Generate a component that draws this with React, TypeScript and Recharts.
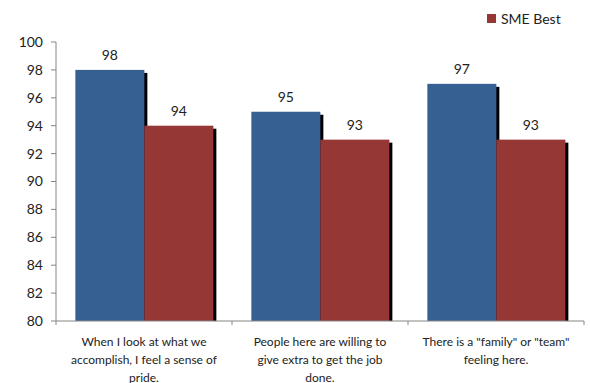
import { Bar, BarChart, LabelList, Legend, XAxis, YAxis } from "recharts";

const CATEGORIES = [
  "When I look at what we|accomplish, I feel a sense of|pride.",
  "People here are willing to|give extra to get the job|done.",
  'There is a "family" or "team"|feeling here.',
];
const COMPANY = [98, 95, 97];
const SME_BEST = [94, 93, 93];
const Y_TICKS = [80, 82, 84, 86, 88, 90, 92, 94, 96, 98, 100];

const BLUE = "#376092";
const RED = "#953735";
const AXIS = "#868686";
const FONT = "Lato, 'Open Sans', sans-serif";

const rows = CATEGORIES.map((name, i) => ({ name, company: COMPANY[i], sme: SME_BEST[i] }));

function ShadowBar(props: any) {
  const { x, y, width, height, fill } = props;
  return (
    <g>
      <rect x={x + 3} y={y + 3} width={width} height={Math.max(0, height - 3)} fill="#000" />
      <rect x={x} y={y} width={width} height={height} fill={fill} />
    </g>
  );
}

function CatTick(props: any) {
  const { x, y, payload, index } = props;
  const half = 88;
  const lines = String(payload.value).split("|");
  return (
    <g>
      {index === 0 && <line x1={x - half} y1={y} x2={x - half} y2={y + 4} stroke={AXIS} />}
      <line x1={x + half} y1={y} x2={x + half} y2={y + 4} stroke={AXIS} />
      {lines.map((l, i) => (
        <text key={i} x={x} y={y + 25 + i * 18} textAnchor="middle" fontSize={12} fill="#222" fontFamily={FONT}>
          {l}
        </text>
      ))}
    </g>
  );
}

function LegendBox() {
  return (
    <div style={{ display: "flex", alignItems: "center", fontFamily: FONT, fontSize: 14, color: "#222" }}>
      <span style={{ width: 9, height: 9, background: RED, display: "inline-block", marginRight: 5 }} />
      SME Best
    </div>
  );
}

export default function App() {
  return (
    <div style={{ position: "absolute", left: 0, top: 0, width: 590, height: 383, background: "#fff" }}>
      <BarChart
        width={590}
        height={383}
        data={rows}
        margin={{ top: 25, right: 6, bottom: 0, left: 0 }}
        barCategoryGap="11%"
        barGap={0}
      >
        <XAxis
          dataKey="name"
          interval={0}
          height={62}
          tickLine={false}
          tickSize={0}
          tickMargin={0}
          axisLine={{ stroke: AXIS }}
          tick={<CatTick />}
        />
        <YAxis
          width={56}
          domain={[80, 100]}
          ticks={Y_TICKS}
          interval={0}
          tickSize={5}
          tickMargin={8}
          axisLine={{ stroke: AXIS }}
          tickLine={{ stroke: AXIS }}
          tick={{ fontSize: 14, fill: "#222", fontFamily: FONT }}
        />
        <Legend
          verticalAlign="top"
          content={<LegendBox />}
          wrapperStyle={{ position: "absolute", top: 10, left: 487, width: 100 }}
        />
        <Bar dataKey="company" name="Company" fill={BLUE} shape={<ShadowBar />} isAnimationActive={false}>
          <LabelList dataKey="company" position="top" offset={10} style={{ fontSize: 14, fill: "#222", fontFamily: FONT }} />
        </Bar>
        <Bar dataKey="sme" name="SME Best" fill={RED} shape={<ShadowBar />} isAnimationActive={false}>
          <LabelList dataKey="sme" position="top" offset={10} style={{ fontSize: 14, fill: "#222", fontFamily: FONT }} />
        </Bar>
      </BarChart>
    </div>
  );
}
